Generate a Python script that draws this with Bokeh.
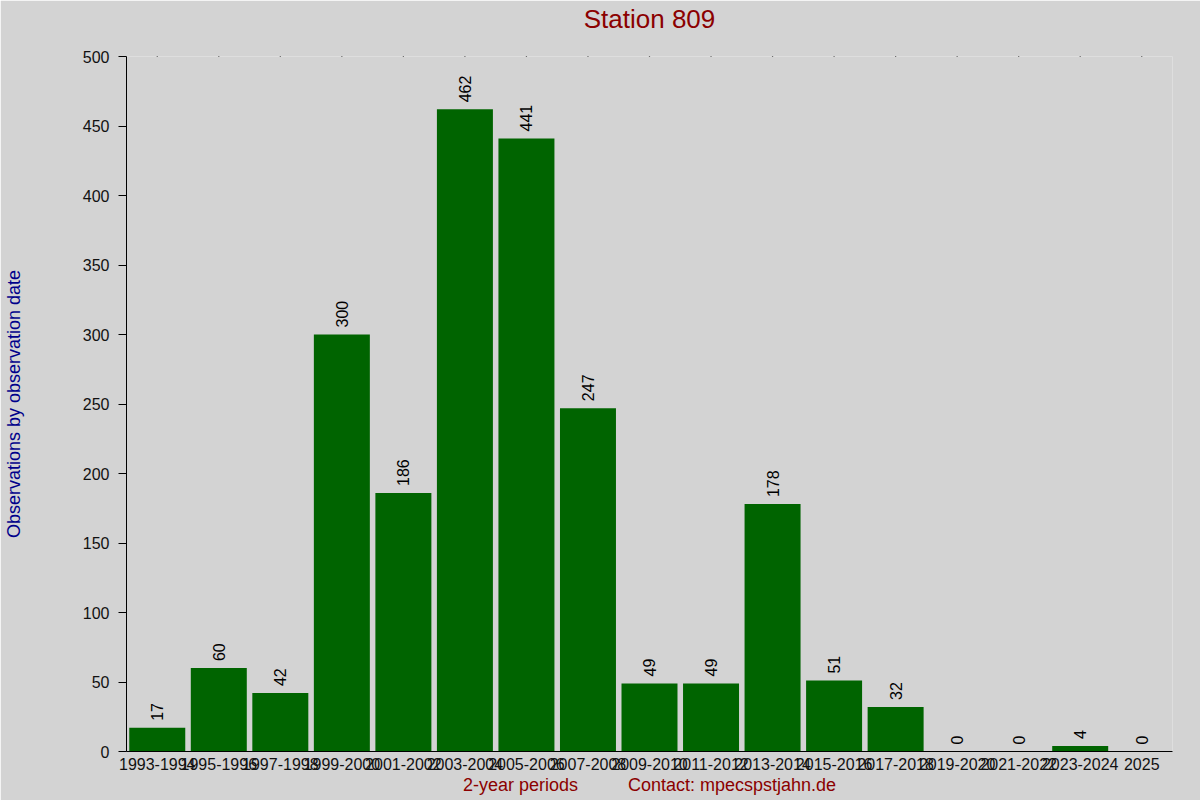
from bokeh.plotting import figure
from bokeh.models import (ColumnDataSource, FactorRange, Range1d, FixedTicker,
                          LinearAxis)
from bokeh.core.properties import value
from bokeh.embed import file_html
from bokeh.resources import INLINE

title_text = "Station 809"
y_label = "Observations by observation date"
x_label = "2-year periods"
contact_text = "Contact: mpecspstjahn.de"

periods = ["1993-1994", "1995-1996", "1997-1998", "1999-2000", "2001-2002",
           "2003-2004", "2005-2006", "2007-2008", "2009-2010", "2011-2012",
           "2013-2014", "2015-2016", "2017-2018", "2019-2020", "2021-2022",
           "2023-2024", "2025"]
counts = [17, 60, 42, 300, 186, 462, 441, 247, 49, 49, 178, 51, 32, 0, 0, 4, 0]
y_ticks = [0, 50, 100, 150, 200, 250, 300, 350, 400, 450, 500]

FONT = "Liberation Sans"
BG = "#d3d3d3"

src = ColumnDataSource(dict(period=periods, count=counts,
                            label=[str(c) for c in counts]))
top_src = ColumnDataSource(dict(period=periods, top=[y_ticks[-1]] * len(periods)))

p = figure(width=1200, height=800, output_backend="svg", toolbar_location=None,
           x_range=FactorRange(*periods, range_padding=0),
           y_range=Range1d(y_ticks[0], y_ticks[-1]),
           min_border_left=126, min_border_right=28,
           min_border_top=56, min_border_bottom=49)
p.background_fill_color = BG
p.border_fill_color = BG
p.outline_line_color = None
p.grid.visible = False

p.vbar(x="period", top="count", width=0.91, source=src,
       fill_color="#006400", line_color=None)

p.text(x="period", y="count", text="label", source=src, angle=1.5708,
       text_align="left", text_baseline="middle", y_offset=-7,
       text_font=value(FONT), text_font_size="16px", text_color="black")

# tiny tick dots along the top edge
p.scatter(x="period", y="top", source=top_src, marker="square", size=1.2,
          fill_color="black", line_color=None)

# y axis (left)
ya = p.left[0]
ya.ticker = FixedTicker(ticks=y_ticks)
ya.minor_tick_line_color = None
ya.major_tick_in = 0
ya.major_tick_out = 8
ya.major_label_standoff = 9
ya.major_label_text_font = FONT
ya.major_label_text_font_size = "16px"
ya.major_label_text_color = "#111111"
ya.axis_line_color = "black"
ya.axis_label = y_label
ya.axis_label_text_font = FONT
ya.axis_label_text_font_size = "18px"
ya.axis_label_text_font_style = "normal"
ya.axis_label_text_color = "#00008b"
ya.axis_label_standoff = 56

# x axis (below)
xa = p.below[0]
xa.major_tick_in = 0
xa.major_tick_out = 0
xa.major_label_standoff = 6
xa.major_label_text_font = FONT
xa.major_label_text_font_size = "16px"
xa.major_label_text_color = "#111111"
xa.axis_line_color = "black"
xa.axis_label = x_label + "\u00a0" * 10 + contact_text
xa.axis_label_text_font = FONT
xa.axis_label_text_font_size = "18px"
xa.axis_label_text_font_style = "normal"
xa.axis_label_text_color = "#8b0000"
xa.axis_label_standoff = 2

# title drawn as the label of a tick-less axis above the plot
title_axis = LinearAxis(ticker=FixedTicker(ticks=[]),
                        axis_line_color=None, major_tick_in=0, major_tick_out=0,
                        minor_tick_in=0, minor_tick_out=0, major_label_standoff=0,
                        axis_label=title_text, axis_label_standoff=23,
                        axis_label_text_font=FONT, axis_label_text_font_size="26px",
                        axis_label_text_font_style="normal",
                        axis_label_text_color="#8b0000")
p.add_layout(title_axis, "above")

html = file_html(p, INLINE)
open("out.html", "w").write(html)
